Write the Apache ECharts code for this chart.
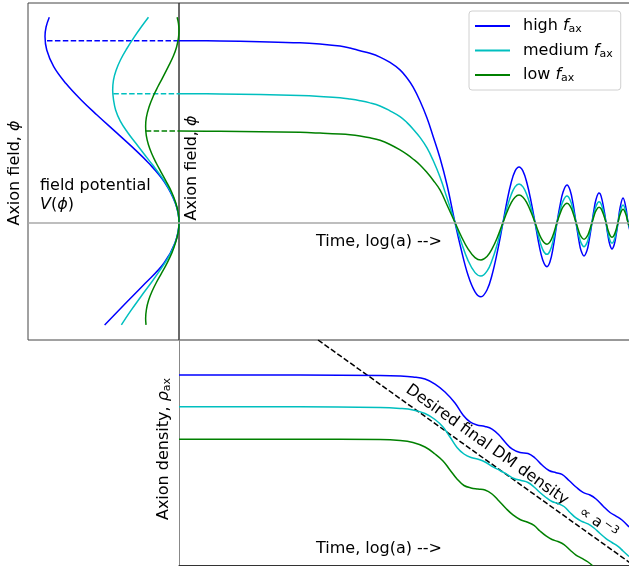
<!DOCTYPE html>
<html>
<head>
<meta charset="utf-8">
<script src="https://cdn.jsdelivr.net/npm/echarts@6/dist/echarts.min.js"></script>
<style>
  html, body { margin: 0; padding: 0; background: #fff; }
  #chart { width: 629px; height: 571px; }
</style>
</head>
<body>
<div id="chart"></div>
<script>
// ---- field evolution phi(t); t = log(a) in arbitrary units ----
const fieldTime = [0, 0.911, 1.8, 2.689, 3.133, 3.578, 3.8, 4.022, 4.244, 4.467, 4.689, 4.911,
  5.067, 5.2, 5.356, 5.511, 5.644, 5.8, 5.956,
  6.133, 6.267, 6.422, 6.578, 6.711, 6.844, 6.956, 7.067,
  7.2, 7.289, 7.378, 7.467, 7.556, 7.644, 7.733, 7.822,
  7.911, 7.978, 8.044, 8.111, 8.178, 8.244, 8.311,
  8.4, 8.467, 8.533, 8.622, 8.689, 8.756,
  8.822, 8.889, 8.933, 9.0, 9.067, 9.111,
  9.178, 9.222, 9.267, 9.333, 9.378, 9.444,
  9.489, 9.533, 9.578, 9.622, 9.667, 9.711,
  9.756, 9.8, 9.867, 9.933, 9.978, 10.067];
const fieldHigh = [1.004, 1.003, 0.999, 0.993, 0.986, 0.975, 0.964, 0.949, 0.935, 0.914, 0.884, 0.843,
  0.798, 0.749, 0.671, 0.577, 0.478, 0.356, 0.207,
  0, -0.145, -0.290, -0.383, -0.410, -0.373, -0.290, -0.171,
  0, 0.118, 0.217, 0.284, 0.307, 0.284, 0.217, 0.118,
  0, -0.093, -0.173, -0.225, -0.244, -0.217, -0.143,
  0, 0.094, 0.167, 0.207, 0.179, 0.104,
  0, -0.103, -0.154, -0.185, -0.154, -0.103,
  0, 0.071, 0.127, 0.163, 0.147, 0.071,
  0, -0.073, -0.126, -0.146, -0.126, -0.073,
  0, 0.079, 0.135, 0.079, 0, -0.085];
const fieldMedium = [0.712, 0.710, 0.707, 0.701, 0.696, 0.689, 0.682, 0.673, 0.661, 0.644, 0.617, 0.585,
  0.552, 0.517, 0.470, 0.412, 0.345, 0.251, 0.135,
  0, -0.105, -0.209, -0.277, -0.296, -0.269, -0.209, -0.124,
  0, 0.082, 0.151, 0.197, 0.213, 0.197, 0.151, 0.082,
  0, -0.067, -0.124, -0.163, -0.176, -0.157, -0.103,
  0, 0.066, 0.118, 0.146, 0.126, 0.073,
  0, -0.075, -0.111, -0.134, -0.111, -0.075,
  0, 0.050, 0.090, 0.115, 0.104, 0.050,
  0, -0.058, -0.100, -0.115, -0.100, -0.058,
  0, 0.057, 0.097, 0.057, 0, -0.065];
const fieldLow = [0.506, 0.504, 0.502, 0.498, 0.494, 0.489, 0.485, 0.478, 0.468, 0.454, 0.431, 0.401,
  0.376, 0.351, 0.318, 0.276, 0.235, 0.180, 0.097,
  0, -0.073, -0.146, -0.194, -0.207, -0.188, -0.146, -0.087,
  0, 0.058, 0.107, 0.140, 0.152, 0.140, 0.107, 0.058,
  0, -0.046, -0.085, -0.111, -0.120, -0.107, -0.071,
  0, 0.048, 0.086, 0.106, 0.092, 0.053,
  0, -0.052, -0.077, -0.093, -0.077, -0.052,
  0, 0.036, 0.066, 0.084, 0.076, 0.036,
  0, -0.041, -0.071, -0.082, -0.071, -0.041,
  0, 0.043, 0.073, 0.043, 0, -0.050];

// ---- potential V(phi), drawn sideways ----
const potHighPhi = [1.134, 1.08, 1.027, 0.953, 0.861, 0.769, 0.677, 0.594, 0.502, 0.419, 0.327, 0.225, 0.106, 0,
  -0.115, -0.225, -0.336, -0.456, -0.566];
const potHighV = [0.968, 0.992, 1.0, 0.987, 0.935, 0.845, 0.730, 0.612, 0.475, 0.352, 0.225, 0.110, 0.027, 0,
  0.031, 0.113, 0.252, 0.411, 0.555];
const potMediumPhi = [1.134, 1.08, 1.027, 0.96, 0.898, 0.84, 0.787, 0.73, 0.68, 0.622, 0.56, 0.50, 0.438,
  0.38, 0.32, 0.26, 0.20, 0.14, 0.07, 0, -0.07, -0.14, -0.20, -0.262, -0.33, -0.41, -0.49, -0.566];
const potMediumV = [0.228, 0.282, 0.332, 0.390, 0.437, 0.470, 0.489, 0.495, 0.489, 0.473, 0.438, 0.386, 0.322,
  0.262, 0.199, 0.138, 0.085, 0.043, 0.011, 0, 0.011, 0.043, 0.085, 0.140, 0.205, 0.285, 0.362, 0.430];
const potLowPhi = [1.134, 1.10, 1.06, 1.02, 0.97, 0.92, 0.861, 0.80, 0.75, 0.70, 0.64, 0.58, 0.53, 0.48, 0.43,
  0.38, 0.33, 0.28, 0.23, 0.17, 0.11, 0.05, 0, -0.05, -0.11, -0.17, -0.23, -0.28, -0.33, -0.38, -0.43,
  -0.48, -0.53, -0.566];
const potLowV = [0.014, 0.004, 0.0, 0.004, 0.018, 0.042, 0.080, 0.122, 0.158, 0.191, 0.223, 0.244, 0.249, 0.244, 0.228,
  0.203, 0.171, 0.135, 0.098, 0.056, 0.025, 0.005, 0, 0.005, 0.025, 0.054, 0.093, 0.130, 0.168, 0.201, 0.227,
  0.243, 0.249, 0.246];

// starting field values, linking each potential to its field curve
const startV = [0.985, 0.490, 0.248];
const startPhi = [1.004, 0.712, 0.506];

// ---- energy density, log(rho) vs log(a) ----
const rhoHighT = [0, 2.689, 4.467, 4.911, 5.2, 5.467, 5.689, 5.911, 6.133, 6.311, 6.467, 6.622, 6.8,
  6.956, 7.111, 7.244, 7.4, 7.578, 7.756, 7.911, 8.067, 8.222, 8.378, 8.511, 8.667, 8.822, 8.978,
  9.133, 9.267, 9.422, 9.578, 9.711, 9.844, 10.0];
const rhoHigh = [17.73, 17.73, 17.69, 17.64, 17.55, 17.36, 16.89, 16.15, 15.12, 14.00, 13.35, 13.07, 12.93,
  12.69, 12.13, 11.48, 10.83, 10.50, 10.41, 9.99, 9.33, 8.82, 8.61, 8.45, 7.89, 7.28, 6.77,
  6.53, 6.16, 5.51, 4.90, 4.57, 4.20, 3.55];
const rhoMediumT = [0, 2.689, 4.467, 4.911, 5.2, 5.467, 5.689, 5.867, 6.022, 6.178, 6.333, 6.489, 6.667,
  6.822, 6.978, 7.133, 7.289, 7.444, 7.6, 7.756, 7.889, 8.022, 8.156, 8.289, 8.422, 8.556, 8.689,
  8.822, 8.956, 9.089, 9.222, 9.356, 9.489, 9.622, 9.756, 9.867, 10.0];
const rhoMedium = [14.77, 14.77, 14.70, 14.61, 14.47, 14.14, 13.58, 12.88, 11.95, 10.97, 10.36, 10.03, 9.85,
  9.57, 9.15, 8.82, 8.45, 8.07, 7.89, 7.70, 7.28, 6.77, 6.30, 5.93, 5.74, 5.46, 4.90,
  4.39, 4.06, 3.83, 3.45, 2.94, 2.47, 2.10, 1.73, 1.31, 0.79];
const rhoLowT = [0, 2.689, 4.467, 4.911, 5.2, 5.467, 5.689, 5.867, 6.022, 6.178, 6.333, 6.489, 6.644,
  6.8, 6.956, 7.111, 7.267, 7.422, 7.578, 7.733, 7.889, 8.022, 8.156, 8.289, 8.422, 8.556, 8.689,
  8.822, 8.956, 9.089, 9.2];
const rhoLow = [11.73, 11.73, 11.71, 11.62, 11.43, 11.01, 10.36, 9.71, 8.87, 8.03, 7.42, 7.19, 7.09,
  7.00, 6.63, 5.97, 5.27, 4.67, 4.25, 4.01, 3.69, 3.17, 2.71, 2.38, 2.19, 1.91, 1.40,
  0.93, 0.61, 0.28, -0.09];
// reference a^-3 scaling line
const dmT = [3.09, 10.2];
const dmRho = [21.0, -0.33];

const names = ['high', 'medium', 'low'];
const colors = ['#0000ff', '#00bfbf', '#008000'];

const zip = (a, b) => a.map((v, i) => [v, b[i]]);
const FONT = 'DejaVu Sans';
const phiMin = -0.6492, phiMax = 1.2127;

const series = [];
// zero line across both upper panels
[0, 1].forEach(g => series.push({
  type: 'line', xAxisIndex: g, yAxisIndex: g, data: [], silent: true, z: 1,
  markLine: {
    silent: true, symbol: 'none', label: { show: false },
    lineStyle: { color: '#a8a8a8', type: 'solid', width: 1.5 },
    data: [{ yAxis: 0 }]
  }
}));

const lineOpts = (name, color, g, smooth) => ({
  type: 'line', name, xAxisIndex: g, yAxisIndex: g, showSymbol: false, symbol: 'none',
  smooth, z: 3, lineStyle: { color, width: 1.5 }, itemStyle: { color }, silent: true
});

const fieldSets = [fieldHigh, fieldMedium, fieldLow];
const potSets = [[potHighV, potHighPhi], [potMediumV, potMediumPhi], [potLowV, potLowPhi]];
const rhoSets = [[rhoHighT, rhoHigh], [rhoMediumT, rhoMedium], [rhoLowT, rhoLow]];

names.forEach((n, i) => {
  series.push(Object.assign(lineOpts(n, colors[i], 1, 0.4), { data: zip(fieldTime, fieldSets[i]) }));
  series.push(Object.assign(lineOpts(n, colors[i], 0, 0.4), { data: zip(potSets[i][0], potSets[i][1]) }));
  series.push(Object.assign(lineOpts(n, colors[i], 0, false), {
    data: [[startV[i], startPhi[i]], [0, startPhi[i]]],
    lineStyle: { color: colors[i], width: 1.5, type: [5.5, 2.4] }
  }));
  series.push(Object.assign(lineOpts(n, colors[i], 2, 0.4), { data: zip(rhoSets[i][0], rhoSets[i][1]) }));
});
series.push({
  type: 'line', xAxisIndex: 2, yAxisIndex: 2, data: zip(dmT, dmRho), symbol: 'none', silent: true,
  z: 2, lineStyle: { color: '#000', width: 1.5, type: [5.5, 2.4] }
});

const hidden = { show: false };
const chart = echarts.init(document.getElementById('chart'), null, { renderer: 'canvas' });

const legendText = {
  high: '{t|high }{i|f}{s|ax}',
  medium: '{t|medium }{i|f}{s|ax}',
  low: '{t|low }{i|f}{s|ax}'
};
const italic = { fontStyle: 'italic', fontSize: 16, fontFamily: FONT };

chart.setOption({
  animation: false,
  backgroundColor: '#fff',
  grid: [
    { left: 28, top: 3, width: 151, height: 337, show: true, borderColor: '#444', borderWidth: 1,
      backgroundColor: 'transparent', outerBoundsMode: 'none' },
    { left: 179, top: 3, width: 460, height: 337, show: true, borderColor: '#333', borderWidth: 1,
      backgroundColor: 'transparent', outerBoundsMode: 'none' },
    { left: 179, top: 340, width: 460, height: 225, show: false, outerBoundsMode: 'none' }
  ],
  xAxis: [
    { type: 'value', gridIndex: 0, min: 0, max: 1.1269, inverse: true, ...hidden },
    { type: 'value', gridIndex: 1, min: 0, max: 10.222, ...hidden },
    { type: 'value', gridIndex: 2, min: 0, max: 10.222, position: 'bottom',
      axisLine: { show: true, onZero: false, lineStyle: { color: '#333', width: 1 } },
      axisTick: { show: false }, axisLabel: { show: false }, splitLine: { show: false } }
  ],
  yAxis: [
    { type: 'value', gridIndex: 0, min: phiMin, max: phiMax, ...hidden },
    { type: 'value', gridIndex: 1, min: phiMin, max: phiMax, ...hidden },
    { type: 'value', gridIndex: 2, min: 0, max: 21,
      axisLine: { show: true, onZero: false, lineStyle: { color: '#888', width: 1 } },
      axisTick: { show: false }, axisLabel: { show: false }, splitLine: { show: false } }
  ],
  legend: {
    data: names.map(n => ({ name: n, icon: 'rect' })),
    orient: 'vertical', left: 469, top: 11,
    itemWidth: 35, itemHeight: 2, itemGap: 6.5,
    padding: [6, 8, 6, 6],
    borderColor: '#d0d0d0', borderWidth: 1, borderRadius: 3,
    backgroundColor: 'rgba(255,255,255,0.8)',
    selectedMode: false,
    formatter: n => legendText[n],
    textStyle: {
      padding: [0, 0, 0, 8],
      rich: {
        t: { fontFamily: FONT, fontSize: 16, color: '#000', lineHeight: 19 },
        i: { fontFamily: FONT, fontSize: 16, fontStyle: 'italic', color: '#000', lineHeight: 19 },
        s: { fontFamily: FONT, fontSize: 11, color: '#000', lineHeight: 19, padding: [7, 0, 0, 0] }
      }
    }
  },
  graphic: [
    { type: 'text', x: 15, y: 173, rotation: Math.PI / 2, silent: true,
      style: { text: 'Axion field, {i|ϕ}', font: '16px "DejaVu Sans"', fill: '#000', align: 'center', verticalAlign: 'middle',
        rich: { i: italic } } },
    { type: 'text', x: 192, y: 168, rotation: Math.PI / 2, silent: true,
      style: { text: 'Axion field, {i|ϕ}', font: '16px "DejaVu Sans"', fill: '#000', align: 'center', verticalAlign: 'middle',
        rich: { i: italic } } },
    { type: 'text', x: 40, y: 186, silent: true,
      style: { text: 'field potential', font: '16px "DejaVu Sans"', fill: '#000', align: 'left', verticalAlign: 'middle' } },
    { type: 'text', x: 40, y: 205, silent: true,
      style: { text: '{i|V}({i|ϕ})', font: '16px "DejaVu Sans"', fill: '#000', align: 'left', verticalAlign: 'middle',
        rich: { i: italic } } },
    { type: 'text', x: 379, y: 242, silent: true,
      style: { text: 'Time, log(a) -->', font: '16px "DejaVu Sans"', fill: '#000', align: 'center', verticalAlign: 'middle' } },
    { type: 'text', x: 379, y: 549, silent: true,
      style: { text: 'Time, log(a) -->', font: '16px "DejaVu Sans"', fill: '#000', align: 'center', verticalAlign: 'middle' } },
    { type: 'text', x: 164, y: 449, rotation: Math.PI / 2, silent: true,
      style: { text: 'Axion density, {i|ρ}{s|ax}', font: '16px "DejaVu Sans"', fill: '#000', align: 'center', verticalAlign: 'middle',
        rich: { i: italic, s: { fontSize: 11, fontFamily: FONT, padding: [7, 0, 0, 0] } } } },
    { type: 'text', x: 487, y: 445, rotation: -35.5 * Math.PI / 180, silent: true,
      style: { text: 'Desired final DM density', font: '16px "DejaVu Sans"', fill: '#000', align: 'center', verticalAlign: 'middle' } },
    { type: 'text', x: 598, y: 523, rotation: -35.5 * Math.PI / 180, silent: true,
      style: { text: '∝ a{s|−3}', font: '15px "DejaVu Sans"', fill: '#000', align: 'center', verticalAlign: 'middle',
        rich: { s: { fontSize: 11, fontFamily: FONT, padding: [0, 0, 8, 2] } } } }
  ],
  series
});
</script>
</body>
</html>
